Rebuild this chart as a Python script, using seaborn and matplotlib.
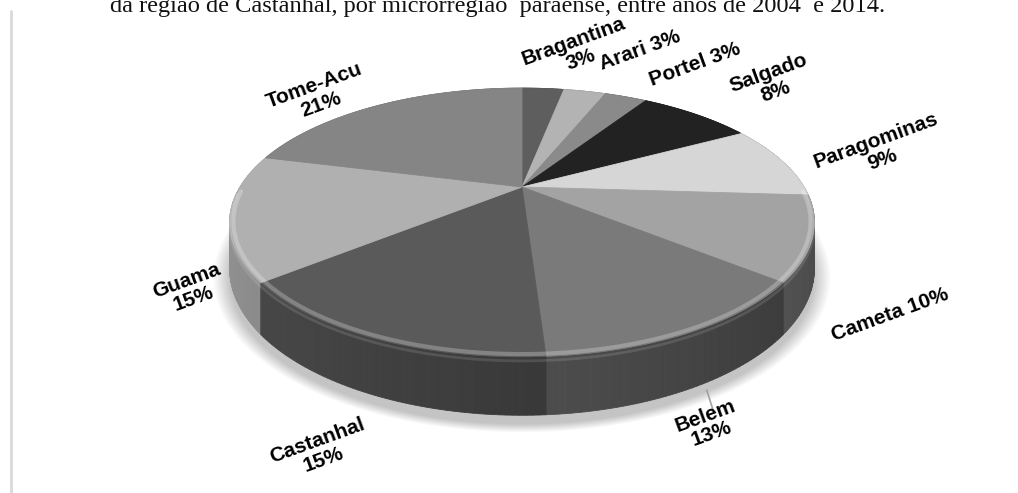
import numpy as np
import matplotlib
matplotlib.use("Agg")
import matplotlib.pyplot as plt
from matplotlib.patches import Polygon
from matplotlib.lines import Line2D
import seaborn as sns

# ---------------- data ----------------
regions = ["Bragantina", "Arari", "Portel", "Salgado", "Paragominas",
           "Cameta", "Belem", "Castanhal", "Guama", "Tome-Acu"]
shares = [3, 3, 3, 8, 9, 10, 13, 15, 15, 21]
labels = ["Bragantina\n3%", "Arari 3%", "Portel 3%", "Salgado\n8%",
          "Paragominas\n9%", "Cameta 10%", "Belem\n13%", "Castanhal\n15%",
          "Guama\n15%", "Tome-Acu\n21%"]
gray_hex = ["#5e5e5e", "#b3b3b3", "#8a8a8a", "#222222", "#d6d6d6",
            "#a3a3a3", "#7a7a7a", "#5a5a5a", "#b0b0b0", "#858585"]
title_text = "da região de Castanhal, por microrregião  paraense, entre anos de 2004  e 2014."

# ---------------- style ----------------
sns.set_theme(style="white")
plt.rcParams['font.family'] = ['Liberation Sans', 'DejaVu Sans']
palette = sns.color_palette(gray_hex)

# label offsets (pixels) from the slice rim anchor
label_offsets = [(34, -38), (55, -41), (69, -32), (76, -32), (97, -11),
                 (78, 29), (19, 36), (-54, 55), (-40, 28), (-61, -10)]

# geometry of the perspective pie (pixel space)
CX, CY, A, B, K, DEPTH = 522, 187, 282, 125, 0.264, 43


def proj(theta_deg, r=1.0, depth=0.0):
    t = np.radians(theta_deg)
    u = r * np.sin(t)
    v = r * np.cos(t)
    s = 1.0 / (1.0 + K * v)
    return CX + A * u * s, CY - B * v * s + depth * s


fig = plt.figure(figsize=(10.18, 4.93), dpi=100)
fig.patch.set_facecolor("white")
ax = fig.add_axes([0, 0, 1, 1])
ax.set_xlim(0, 1018)
ax.set_ylim(493, 0)
ax.axis("off")

vals = np.array(shares, dtype=float)
spans = vals / vals.sum() * 360.0
starts = np.concatenate([[0.0], np.cumsum(spans)[:-1]])
ends = starts + spans
mids = (starts + ends) / 2

# ---- shadow ----
full = np.linspace(0, 360, 361)
bx, by = proj(full, 1.0, DEPTH)
scx, scy = CX, CY + DEPTH + 40
for i in range(12):
    sc = 1.0 + 0.005 * i
    px = scx + (bx - scx) * sc
    py = scy + (by - scy) * sc + 9
    ax.add_patch(Polygon(np.column_stack([px, py]), closed=True,
                         facecolor="black", edgecolor="none", alpha=0.018, zorder=1))

# ---- side strips ----
strips = []
for i in range(len(vals)):
    n = max(2, int(np.ceil(spans[i] / 1.0)))
    ts = np.linspace(starts[i], ends[i], n + 1)
    base = np.array(palette[i])
    for t1, t2 in zip(ts[:-1], ts[1:]):
        tm = (t1 + t2) / 2
        u = np.sin(np.radians(tm))
        v = np.cos(np.radians(tm))
        f = 0.64 - 0.19 * u
        col = np.clip(base * f, 0, 1)
        x1, y1 = proj(t1)
        x2, y2 = proj(t2)
        x3, y3 = proj(t2, 1.0, DEPTH)
        x4, y4 = proj(t1, 1.0, DEPTH)
        strips.append((v, [(x1, y1), (x2, y2), (x3, y3), (x4, y4)], col))
strips.sort(key=lambda s: -s[0])
for v, pts, col in strips:
    ax.add_patch(Polygon(pts, closed=True, facecolor=col, edgecolor=col,
                         linewidth=0.6, zorder=2))

# ---- top faces ----
for i in range(len(vals)):
    ts = np.linspace(starts[i], ends[i], max(4, int(spans[i] * 2)))
    rx, ry = proj(ts)
    pts = [(CX, CY)] + list(zip(rx, ry))
    ax.add_patch(Polygon(pts, closed=True, facecolor=palette[i],
                         edgecolor=palette[i], linewidth=0.6, zorder=3))

# ---- bevel highlight on front rim ----
tb = np.linspace(92, 268, 200)
hx, hy = proj(tb, 0.988)
ax.plot(hx, hy, color="white", alpha=0.25, lw=3, zorder=4, solid_capstyle="round")
hx2, hy2 = proj(tb, 1.0, 3)
ax.plot(hx2, hy2, color="white", alpha=0.12, lw=2, zorder=4)

# ---- labels ----
for i in range(len(vals)):
    m = mids[i]
    front = np.cos(np.radians(m)) < -0.1
    axp, ayp = proj(m, 1.0, DEPTH if front else 0.0)
    dx, dy = label_offsets[i]
    ax.text(axp + dx, ayp + dy, labels[i], ha="center", va="center",
            rotation=20, rotation_mode="anchor", multialignment="center",
            fontsize=15, fontweight="bold", color="black",
            linespacing=1.05, zorder=6)

# leader line for Belem
ib = regions.index("Belem")
lx, ly = proj(mids[ib] - 4, 1.0, DEPTH)
ax.plot([lx - 3, lx + 4], [ly + 9, ly + 31], color="#a0a0a0", lw=1.2, zorder=5)

# ---- title fragment (cut at top) ----
ax.text(110, 12, title_text, ha="left", va="baseline",
        family=["Liberation Serif", "DejaVu Serif"], fontsize=17.6,
        color="#111111", zorder=7)

# ---- frame left border ----
fig.add_artist(Line2D([11 / 1018, 11 / 1018], [0, 1 - 11 / 493],
                      color="#d9d9d9", lw=2, transform=fig.transFigure))

fig.savefig("out.png", dpi=100, facecolor="white")
